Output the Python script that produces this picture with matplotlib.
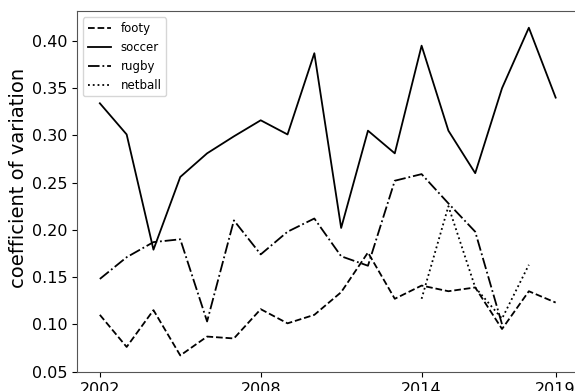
import numpy as np
import matplotlib
matplotlib.use("Agg")
import matplotlib.pyplot as plt

years = list(range(2002, 2020))

footy = [0.110, 0.076, 0.115, 0.067, 0.087, 0.085, 0.116, 0.101, 0.110, 0.134,
         0.176, 0.127, 0.141, 0.135, 0.139, 0.095, 0.135, 0.123]
soccer = [0.334, 0.301, 0.179, 0.256, 0.281, 0.299, 0.316, 0.301, 0.387, 0.202,
          0.305, 0.281, 0.395, 0.305, 0.260, 0.350, 0.414, 0.340]
rugby_years = list(range(2002, 2018))
rugby = [0.148, 0.171, 0.187, 0.190, 0.103, 0.210, 0.174, 0.198, 0.212, 0.172,
         0.162, 0.252, 0.259, 0.228, 0.198, 0.100]
netball_years = list(range(2014, 2019))
netball = [0.127, 0.225, 0.139, 0.106, 0.163]

xticks = [2002, 2008, 2014, 2019]

fig = plt.figure(figsize=(5.75, 3.91), dpi=100)
ax = fig.add_axes([0.134, 0.049, 0.872, 0.922])

lw = 1.3
ax.plot(years, footy, color="k", linestyle="--", linewidth=lw, label="footy")
ax.plot(years, soccer, color="k", linestyle="-", linewidth=lw, label="soccer")
ax.plot(rugby_years, rugby, color="k", linestyle="-.", linewidth=lw, label="rugby")
ax.plot(netball_years, netball, color="k", linestyle=":", linewidth=lw, label="netball")

ax.set_xticks(xticks)
ax.tick_params(labelsize=11.5)
ax.set_ylabel("coefficient of variation", fontsize=14)
ax.yaxis.set_label_coords(-0.098, 0.537)
for s in ax.spines.values():
    s.set_color("#555555")
# the frame runs past the right edge of the figure
ax.spines["right"].set_visible(False)

ax.legend(loc="upper left", fontsize=8.5)

fig.savefig("out.png", dpi=100)
plt.close(fig)
